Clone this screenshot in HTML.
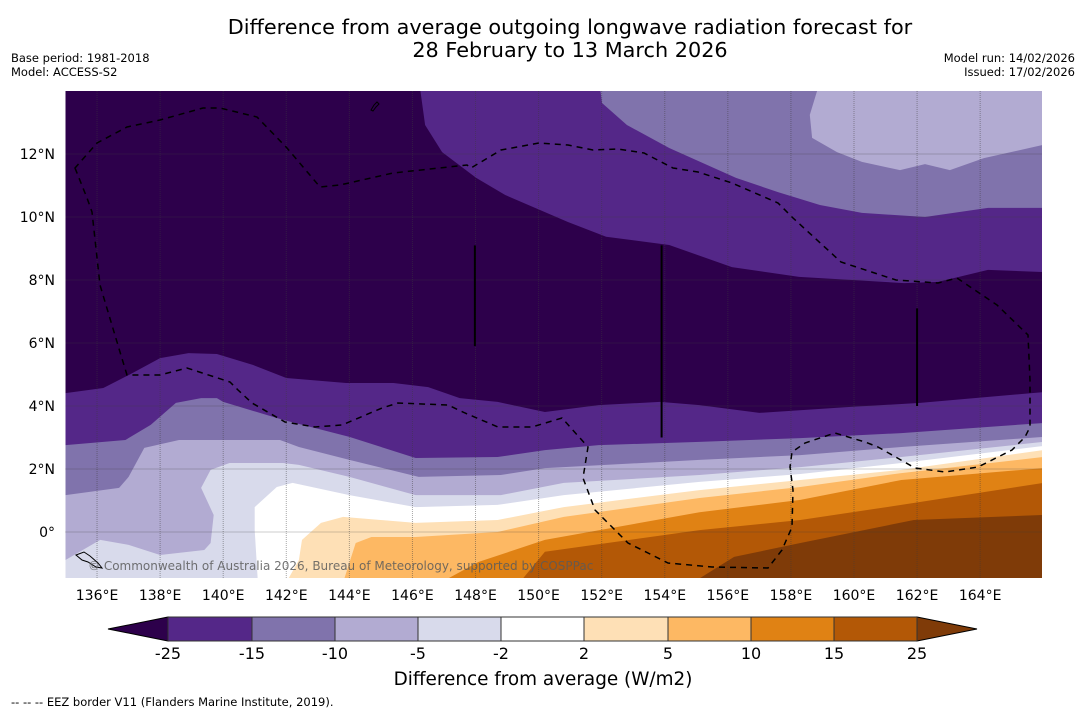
<!DOCTYPE html>
<html><head><meta charset="utf-8">
<style>
body{margin:0;background:#fff;width:1085px;height:713px;overflow:hidden;font-family:"DejaVu Sans","Liberation Sans",sans-serif;}
svg text{font-family:"DejaVu Sans","Liberation Sans",sans-serif;}
</style></head>
<body>
<svg id="chart" width="1085" height="713" viewBox="0 0 1085 713" xmlns="http://www.w3.org/2000/svg">
<text x="570" y="34" font-size="20.8" text-anchor="middle">Difference from average outgoing longwave radiation forecast for</text>
<text x="570" y="57" font-size="20.8" text-anchor="middle">28 February to 13 March 2026</text>
<text x="11" y="62" font-size="11.5">Base period: 1981-2018</text>
<text x="11" y="76" font-size="11.5">Model: ACCESS-S2</text>
<text x="1075" y="62" font-size="11.5" text-anchor="end">Model run: 14/02/2026</text>
<text x="1075" y="76" font-size="11.5" text-anchor="end">Issued: 17/02/2026</text>
<defs><clipPath id="mapclip"><rect x="65.5" y="91" width="976.5" height="487"/></clipPath></defs>
<g id="map" clip-path="url(#mapclip)"></g>
<g id="axes"></g>
<g id="cbar"></g>
<text x="543" y="685" font-size="18.4" text-anchor="middle">Difference from average (W/m2)</text>
<text x="11" y="706" font-size="11.5">--  --  -- EEZ border V11 (Flanders Marine Institute, 2019).</text>
</svg>
<script>
// ---- data: contour boundaries as [lon, lat] ----
const levels = [-25,-15,-10,-5,-2,2,5,10,15,25];
const colors = ["#2d004b","#542788","#8073ac","#b2abd2","#d8daeb","#ffffff","#fee0b6","#fdb863","#e08214","#b35806","#7f3b08"];
const lineM25 = [[135,4.41],[136.2,4.57],[137,4.98],[138,5.52],[138.9,5.68],[139.8,5.65],[140.95,5.3],[142,4.89],[143.9,4.73],[145.4,4.73],[146.5,4.6],[147.5,4.25],[148.7,4.13],[150.2,3.81],[151.9,4.03],[153.85,4.13],[155.1,4.03],[157,3.78],[159.9,3.97],[162.1,4.1],[166,4.44]];
const lineM15 = [[135,2.76],[136.9,2.92],[137.7,3.4],[138.5,4.1],[139.3,4.25],[139.8,4.25],[140,4.13],[141.9,3.56],[144,3.02],[146.1,2.35],[148.7,2.38],[150.2,2.6],[151.9,2.76],[155.1,2.86],[158.3,2.98],[161.5,3.14],[166,3.46]];
const lineM10 = [[135,1.17],[136.7,1.4],[137,1.75],[137.5,2.67],[138.6,2.92],[141.8,2.92],[142.4,2.7],[144,2.29],[146.2,1.75],[148.8,1.81],[150.2,2.03],[155.1,2.29],[158.3,2.44],[161.5,2.7],[166,3.02]];
const lineM5 = [[135,-0.89],[136.1,-0.25],[137,-0.41],[138,-0.73],[139.4,-0.57],[139.6,-0.35],[139.7,0.54],[139.3,1.4],[139.6,1.97],[140.2,2.19],[141.9,2.19],[142.4,2.13],[144,1.75],[146.1,1.17],[148.8,1.17],[150.8,1.56],[155.1,1.81],[158.3,2.06],[161.5,2.38],[166,2.86]];
const lineM2 = [[141.1,-1.6],[141,0.06],[141,0.79],[141.7,1.43],[142.2,1.56],[144,1.17],[146.1,0.79],[148.7,0.86],[150.8,1.17],[155.1,1.59],[158.3,1.84],[161.5,2.19],[166,2.73]];
const lineP2 = [[142,-1.6],[142.4,-0.89],[142.5,-0.25],[143.1,0.29],[143.8,0.48],[146.1,0.29],[148.7,0.38],[150.8,0.79],[155.1,1.33],[158.3,1.65],[161.5,1.97],[166,2.6]];
const lineP5 = [[143.8,-1.6],[144.2,-0.35],[144.7,-0.16],[146.1,-0.16],[148.7,0],[150.8,0.48],[155.1,1.08],[158.3,1.43],[161.5,1.87],[166,2.38]];
const lineP10 = [[146.9,-1.6],[148.1,-0.95],[150.2,-0.25],[155.1,0.63],[158.3,1.02],[161.5,1.65],[166,2.03]];
const lineP15 = [[149.4,-1.6],[150.2,-0.63],[155.1,0.06],[158.3,0.38],[161.5,0.86],[166,1.56]];
const lineP25 = [[154.9,-1.6],[156.2,-0.79],[158.3,-0.35],[161.9,0.38],[166,0.54]];
const topM15 = [[146.24,14.1],[146.4,12.92],[146.94,12.06],[148.02,11.24],[148.94,10.7],[150.93,9.84],[152.14,9.37],[154.14,9.11],[156.13,8.41],[158.26,8.1],[161.59,7.9],[162.67,7.94],[164.25,8.32],[166,8.25]];
const topM10 = [[151.95,14.1],[152.01,13.62],[152.8,12.92],[154.14,12.19],[156.26,11.24],[157.59,10.79],[158.92,10.38],[160.25,10.13],[162.25,10],[164.25,10.29],[166,10.29]];
const topM5 = [[158.86,14.1],[158.6,13.24],[158.67,12.51],[159.46,12.06],[160.25,11.75],[161.46,11.49],[162.25,11.68],[163.04,11.49],[164.12,11.87],[166,12.29]];
const lonTicks = [136,138,140,142,144,146,148,150,152,154,156,158,160,162,164];
const latTicks = [0,2,4,6,8,10,12];
const cbarLabels = ["-25","-15","-10","-5","-2","2","5","10","15","25"];

const X0=65.5, PXDEG=31.54, Y0=91, PYDEG=31.5;
const xs = lon => X0 + (lon-135)*PXDEG;
const ys = lat => Y0 + (14-lat)*PYDEG;
const NS="http://www.w3.org/2000/svg";
const map=document.getElementById('map'), axes=document.getElementById('axes'), cbar=document.getElementById('cbar');
function mk(tag, attrs, parent){const e=document.createElementNS(NS,tag);for(const k in attrs)e.setAttribute(k,attrs[k]);parent.appendChild(e);return e;}
const pts = line => line.map(p=>xs(p[0]).toFixed(1)+','+ys(p[1]).toFixed(1));

const bg = mk('rect',{x:X0,y:Y0,width:977,height:487,fill:colors[0]},map);


const lower=[lineM25,lineM15,lineM10,lineM5,lineM2,lineP2,lineP5,lineP10,lineP15,lineP25];
lower.forEach((line,i)=>{
  const first=line[0], last=line[line.length-1];
  const poly=pts(line);
  poly.push(xs(167)+','+ys(last[1]), xs(167)+','+ys(-2), xs(first[0]<=135?134:first[0])+','+ys(-2));
  if(first[0]<=135) poly.splice(0,0,xs(134)+','+ys(first[1]));
  const el=mk('polygon',{points:poly.join(' '),fill:colors[i+1]},map);
  
  
});
const upper=[[topM15,colors[1]],[topM10,colors[2]],[topM5,colors[3]]];
upper.forEach((u,i)=>{
  const line=u[0];const poly=pts(line);
  poly.push(xs(167)+','+ys(line[line.length-1][1]), xs(167)+','+ys(15), xs(line[0][0])+','+ys(15));
  const el=mk('polygon',{points:poly.join(' '),fill:u[1]},map);
  
  
});
lonTicks.forEach(l=>{
  const g=mk('line',{x1:xs(l),x2:xs(l),y1:Y0,y2:578,stroke:'rgba(60,60,60,0.45)','stroke-width':1,'stroke-dasharray':'1,1'},map);
  
  
});
latTicks.forEach(l=>{
  const g=mk('line',{x1:X0,x2:1042,y1:ys(l),y2:ys(l),stroke:'rgba(60,60,60,0.5)','stroke-width':1,'stroke-dasharray':'1,1'},map);
  
  
});
[[147.98,9.1,5.9],[153.9,9.1,3.0],[162.0,7.1,4.0]].forEach(v=>{
  const l=mk('line',{x1:xs(v[0]),x2:xs(v[0]),y1:ys(v[1]),y2:ys(v[2]),stroke:'#000','stroke-width':2},map);
  
  
});
const eez="M75,168 L87,198 L92,212 L100,285 L120,352 L127,375 L160,375 L187,368 L230,382 L238,390 L252,403 L285,422 L315,427 L342,425 L382,408 L398,403 L448,405 L465,413 L498,427 L532,427 L562,418 L588,447 L583,478 L595,510 L628,543 L668,563 L712,567 L768,568 L782,550 L792,527 L793,490 L790,467 L792,452 L805,443 L835,433 L865,442 L878,447 L915,468 L945,472 L978,467 L1012,450 L1025,437 L1030,427 L1030,380 L1028,335 L997,305 L957,278 L938,283 L896,280 L841,262 L793,218 L778,203 L732,183 L698,172 L673,168 L644,153 L618,149 L593,150 L568,145 L539,143 L501,150 L471,168 L467,165 L393,173 L340,185 L320,187 L287,148 L257,117 L220,108 L203,108 L160,120 L127,127 L97,143 Z";
const ep=mk('path',{d:eez,fill:'none',stroke:'#000','stroke-width':1.5,'stroke-dasharray':'6,5'},map);


const gu=mk('path',{d:'M371,110 l3,-5 l3,-3 l2,2 l-3,3 l-3,4 z',fill:'none',stroke:'#000','stroke-width':1},map);


const bi=mk('path',{d:'M76,555 l8,-3 l6,4 l8,7 l4,5 l-6,-1 l-8,-5 l-6,-2 z',fill:'none',stroke:'#000','stroke-width':1},map);


const cp=mk('text',{x:88,y:570,'font-size':12,fill:'rgba(90,90,90,0.85)'},map);
cp.textContent='© Commonwealth of Australia 2026, Bureau of Meteorology, supported by COSPPac';


lonTicks.forEach(l=>{
  const t=mk('text',{x:xs(l),y:600,'font-size':14,'text-anchor':'middle'},axes);
  t.textContent=l+'°E';
  
  
});
latTicks.forEach(l=>{
  const t=mk('text',{x:55,y:ys(l)+5,'font-size':14,'text-anchor':'end'},axes);
  t.textContent=l===0?'0°':l+'°N';
  
  
});
const CB=[168,252,335,418,501,584,668,751,834,917];
const tl=mk('polygon',{points:'108,629 168,617 168,641',fill:colors[0],stroke:'#000','stroke-width':1},cbar);


const tr=mk('polygon',{points:'977,629 917,617 917,641',fill:colors[10],stroke:'#000','stroke-width':1},cbar);


for(let i=0;i<9;i++){
  const r=mk('rect',{x:CB[i],y:617,width:CB[i+1]-CB[i],height:24,fill:colors[i+1],stroke:'#333','stroke-width':1},cbar);
  
  
}
cbarLabels.forEach((s,i)=>{
  const t=mk('text',{x:CB[i],y:659,'font-size':16,'text-anchor':'middle'},cbar);
  t.textContent=s;
  
  
});
</script>
</body></html>
